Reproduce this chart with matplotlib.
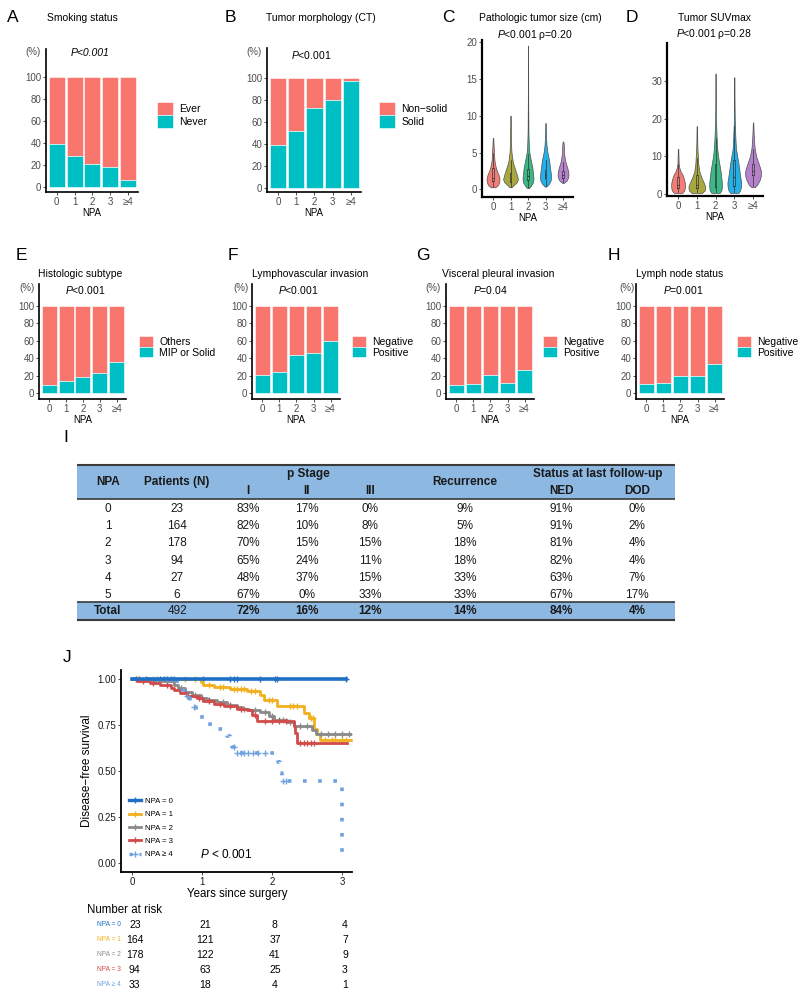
import numpy as np
import matplotlib
matplotlib.use("Agg")
import matplotlib.pyplot as plt
from matplotlib import transforms
from matplotlib.patches import Rectangle
from matplotlib.lines import Line2D

plt.rcParams['font.family'] = ['Liberation Sans', 'DejaVu Sans']
plt.rcParams['mathtext.fontset'] = 'custom'
plt.rcParams['mathtext.it'] = 'Liberation Sans:italic'
plt.rcParams['mathtext.rm'] = 'Liberation Sans'

W, H = 800, 998

# ── data ───────────────────────────────────────────────────────────
npa_ticks = ["0", "1", "2", "3", "≥4"]
RED, TEAL = "#F8766D", "#00BFC4"

never_smoker = [39, 28, 21, 18, 6]
solid_ct = [39, 52, 73, 80, 97]
mip_solid = [9, 14, 18, 23, 36]
lvi_pos = [21, 24, 44, 46, 60]
vpi_pos = [9, 10, 21, 12, 27]
ln_pos = [10, 11, 20, 20, 33]

# violin outlines: (value, half width) per NPA group
size_y = [[0.3, 0.6, 1.0, 1.5, 2.0, 2.5, 3.0, 3.5, 4.0, 5.0, 6.0, 7.0],
          [0.3, 0.7, 1.0, 1.4, 2.0, 2.5, 3.0, 3.5, 4.0, 5.0, 6.0, 8.0, 10.0],
          [0.2, 0.5, 1.0, 1.5, 2.0, 2.5, 3.0, 3.5, 4.0, 5.0, 6.0, 8.0, 12.0, 19.5],
          [0.4, 0.8, 1.2, 1.7, 2.2, 2.7, 3.2, 4.0, 4.5, 5.0, 6.0, 7.0, 9.0],
          [0.9, 1.2, 1.6, 2.0, 2.5, 3.0, 3.5, 4.0, 5.0, 6.0, 6.5]]
size_w = [[0.12, 0.25, 0.32, 0.33, 0.28, 0.2, 0.14, 0.1, 0.07, 0.05, 0.03, 0.01],
          [0.05, 0.2, 0.32, 0.38, 0.32, 0.26, 0.2, 0.14, 0.1, 0.05, 0.03, 0.02, 0.01],
          [0.05, 0.15, 0.26, 0.28, 0.26, 0.24, 0.22, 0.18, 0.14, 0.07, 0.04, 0.02, 0.01, 0.005],
          [0.05, 0.18, 0.26, 0.28, 0.27, 0.24, 0.22, 0.18, 0.14, 0.1, 0.05, 0.03, 0.01],
          [0.05, 0.18, 0.26, 0.28, 0.26, 0.21, 0.15, 0.1, 0.05, 0.04, 0.02]]
size_box = [(1.2, 1.6, 2.9, 0.3, 5.0), (1.0, 1.5, 2.2, 0.3, 4.0), (1.3, 1.8, 2.8, 0.2, 4.8),
            (1.5, 2.0, 2.6, 0.5, 4.0), (1.6, 2.0, 2.5, 1.0, 3.7)]

suv_y = [[0.3, 1, 2, 3, 4, 5, 6, 7, 8, 10, 12],
         [0.3, 1, 2, 3, 4, 5, 6, 8, 10, 12, 14, 18],
         [0.3, 1, 2, 3, 4, 6, 8, 10, 12, 15, 20, 25, 32],
         [0.3, 1, 2, 3, 4, 6, 8, 10, 12, 15, 20, 25, 31],
         [1.8, 2.5, 3.5, 4.5, 5.5, 6.5, 7.5, 8.5, 10, 12, 14, 16, 19]]
suv_w = [[0.2, 0.3, 0.33, 0.32, 0.28, 0.22, 0.12, 0.06, 0.03, 0.02, 0.01],
         [0.25, 0.38, 0.4, 0.33, 0.25, 0.18, 0.12, 0.07, 0.05, 0.03, 0.02, 0.01],
         [0.2, 0.28, 0.3, 0.3, 0.28, 0.24, 0.18, 0.12, 0.08, 0.05, 0.02, 0.01, 0.005],
         [0.2, 0.28, 0.32, 0.33, 0.3, 0.25, 0.2, 0.14, 0.08, 0.05, 0.02, 0.01, 0.005],
         [0.08, 0.2, 0.3, 0.36, 0.38, 0.36, 0.3, 0.24, 0.15, 0.08, 0.05, 0.03, 0.01]]
suv_box = [(1.5, 2.5, 4.5, 0.5, 8.0), (1.5, 2.5, 5.0, 0.5, 9.5), (1.8, 3.5, 8.0, 0.5, 15.0),
           (2.0, 4.5, 9.0, 0.5, 18.0), (5.0, 6.0, 8.0, 2.0, 12.0)]
VCOL = ["#F2766F", "#A5A335", "#2FB680", "#18ACE6", "#B07AC8"]

# table I
tab_npa = ["0", "1", "2", "3", "4", "5"]
tab_n = [23, 164, 178, 94, 27, 6]
stage_1 = [83, 82, 70, 65, 48, 67]
stage_2 = [17, 10, 15, 24, 37, 0]
stage_3 = [0, 8, 15, 11, 15, 33]
recur = [9, 5, 18, 18, 33, 33]
ned = [91, 91, 81, 82, 63, 67]
dod = [0, 2, 4, 4, 7, 17]
total_row = [492, 72, 16, 12, 14, 84, 4]

# Kaplan-Meier steps (time, survival) and censor times
km_names = ["NPA = 0", "NPA = 1", "NPA = 2", "NPA = 3", "NPA ≥ 4"]
km_cols = ["#1F6FC5", "#F2B01E", "#8A8A8A", "#D24B4B", "#6FA2DE"]
km_t = [[0, 3.05],
        [0, 0.98, 1.02, 1.17, 1.40, 1.64, 1.83, 1.88, 2.07, 2.45, 2.52, 2.60, 2.64, 2.69, 3.15],
        [0, 0.3, 0.6, 0.65, 0.75, 0.86, 0.98, 1.07, 1.21, 1.36, 1.50, 1.57, 1.67, 1.83, 1.95,
         2.02, 2.21, 2.31, 2.57, 2.62, 3.22],
        [0, 0.07, 0.25, 0.4, 0.55, 0.6, 0.69, 0.79, 0.93, 1.02, 1.17, 1.31, 1.5, 1.64, 1.71,
         1.79, 2.31, 2.33, 2.36, 3.07],
        [0, 0.64, 0.72, 0.78, 0.83, 0.88, 0.92, 1.0, 1.12, 1.36, 1.40, 1.43, 1.46, 2.09, 2.11,
         2.14, 3.0, 3.0]]
km_s = [[1.0, 1.0],
        [1.0, 0.985, 0.97, 0.96, 0.947, 0.937, 0.915, 0.888, 0.855, 0.815, 0.79, 0.73, 0.70, 0.67, 0.67],
        [1.0, 0.99, 0.97, 0.95, 0.93, 0.915, 0.90, 0.885, 0.875, 0.86, 0.85, 0.84, 0.83, 0.82, 0.80,
         0.78, 0.77, 0.745, 0.725, 0.70, 0.70],
        [1.0, 0.99, 0.98, 0.97, 0.95, 0.94, 0.925, 0.91, 0.90, 0.88, 0.865, 0.855, 0.84, 0.83, 0.805,
         0.775, 0.745, 0.705, 0.655, 0.655],
        [1.0, 0.97, 0.94, 0.91, 0.88, 0.85, 0.81, 0.77, 0.73, 0.69, 0.66, 0.63, 0.60, 0.55, 0.49,
         0.445, 0.445, 0.03]]
km_cens = [[0.4, 0.45, 0.5, 0.55, 0.6, 1.01, 1.40, 1.45, 1.5, 1.83, 2.04, 2.07, 3.05],
           [0.05, 0.1, 0.2, 0.3, 0.45, 0.6, 0.75, 0.9, 1.1, 1.25, 1.3, 1.45, 1.5, 1.55, 1.6, 1.7,
            1.75, 1.95, 2.0, 2.25, 2.3, 2.35, 2.55, 2.58, 2.75, 2.85, 2.9, 3.0, 3.05, 3.15],
           [0.1, 0.2, 0.35, 0.5, 0.7, 0.9, 1.0, 1.1, 1.3, 1.4, 1.6, 1.75, 1.9, 2.0, 2.1, 2.15, 2.25,
            2.4, 2.5, 2.7, 2.8, 2.9, 3.0, 3.1, 3.2],
           [0.05, 0.15, 0.3, 0.5, 0.8, 0.95, 1.1, 1.25, 1.4, 1.55, 1.75, 1.9, 2.0, 2.1, 2.2, 2.4,
            2.45, 2.5, 2.55, 2.6],
           [0.35, 0.5, 0.55, 0.78, 0.88, 1.45, 1.5, 1.55, 1.6, 1.65, 1.72, 1.8, 1.9, 2.15, 2.2]]
risk_times = [0, 1, 2, 3]
risk = [[23, 21, 8, 4],
        [164, 121, 37, 7],
        [178, 122, 41, 9],
        [94, 63, 25, 3],
        [33, 18, 4, 1]]

# ── figure ─────────────────────────────────────────────────────────
fig = plt.figure(figsize=(W / 100, H / 100), dpi=100)

ov = fig.add_axes([0, 0, 1, 1])
ov.set_xlim(0, W)
ov.set_ylim(H, 0)
ov.axis('off')
ov.set_zorder(10)


def txt(x, y, s, **kw):
    kw.setdefault('va', 'center')
    kw.setdefault('ha', 'center')
    ov.text(x, y, s, **kw)


def px_axes(l, t, r, b):
    a = fig.add_axes([l / W, 1 - b / H, (r - l) / W, (b - t) / H])
    a.set_facecolor('none')
    return a


def style_axis(ax, lw=1.2, tick_col='#4D4D4D', fs=7):
    for s in ('top', 'right'):
        ax.spines[s].set_visible(False)
    for s in ('left', 'bottom'):
        ax.spines[s].set_linewidth(lw)
    ax.tick_params(length=2.2, width=0.6, pad=1.2, labelsize=fs, labelcolor=tick_col, color='#333333')


def bar_panel(box, pos, labels, ylim, leg_x, leg_y, hl, hh):
    ax = px_axes(*box)
    x = np.arange(len(pos))
    pos = np.array(pos)
    ax.bar(x, 100 - pos, bottom=pos, width=0.89, color=RED, edgecolor='white', lw=0.4, label=labels[0])
    ax.bar(x, pos, width=0.89, color=TEAL, edgecolor='white', lw=0.4, label=labels[1])
    ax.set_xlim(-0.6, 4.55)
    ax.set_ylim(*ylim)
    ax.set_yticks([0, 20, 40, 60, 80, 100])
    ax.set_xticks(x, npa_ticks)
    style_axis(ax)
    ax.set_xlabel("NPA", fontsize=7, labelpad=1)
    ax.legend(loc='center left', bbox_to_anchor=(leg_x / W, 1 - leg_y / H), bbox_transform=fig.transFigure,
              frameon=False, borderpad=0, borderaxespad=0, handlelength=hl, handleheight=hh,
              labelspacing=0.0, handletextpad=0.6, fontsize=7.5)
    return ax


def violin_panel(box, ys, ws, boxes, xlim, ylim, yticks, wscale=1.12):
    ax = px_axes(*box)
    for i in range(5):
        y = np.array(ys[i])
        w = np.array(ws[i]) * wscale
        ax.fill_betweenx(y, i - w, i + w, facecolor=VCOL[i], edgecolor='#4A4A4A', lw=0.5, alpha=0.95)
    stats = [dict(q1=b[0], med=b[1], q3=b[2], whislo=b[3], whishi=b[4], fliers=[]) for b in boxes]
    ax.bxp(stats, positions=range(5), widths=0.09, showfliers=False, showcaps=False,
           boxprops=dict(lw=0.5, color='#333333'), medianprops=dict(lw=0.6, color='#333333'),
           whiskerprops=dict(lw=0.5, color='#333333'))
    ax.set_xlim(*xlim)
    ax.set_ylim(*ylim)
    ax.set_yticks(yticks)
    ax.set_xticks(range(5), npa_ticks)
    style_axis(ax, lw=1.6)
    ax.set_xlabel("NPA", fontsize=7, labelpad=1)
    return ax


# ── row 1 ──
bar_panel((46, 49, 138, 192), never_smoker, ["Ever", "Never"], (-4.5, 125.5), 157, 115, 1.55, 1.6)
bar_panel((267, 48, 361, 192), solid_ct, ["Non−solid", "Solid"], (-3.6, 127), 379, 115, 1.55, 1.6)
violin_panel((482, 40, 573, 197), size_y, size_w, size_box, (-0.63, 4.57), (-1.02, 20.27), [0, 5, 10, 15, 20])
violin_panel((667, 43, 763, 196), suv_y, suv_w, suv_box, (-0.59, 4.53), (-0.53, 40.1), [0, 10, 20, 30])

# ── row 2 ──
bar_panel((39, 284, 126, 399), mip_solid, ["Others", "MIP or Solid"], (-6.9, 125.3), 139, 347, 1.35, 1.15)
bar_panel((252, 284, 340, 399), lvi_pos, ["Negative", "Positive"], (-6.9, 125.3), 352, 347, 1.35, 1.15)
bar_panel((446, 284, 534, 399), vpi_pos, ["Negative", "Positive"], (-6.9, 125.3), 543, 347, 1.35, 1.15)
bar_panel((636, 284, 724, 399), ln_pos, ["Negative", "Positive"], (-6.9, 125.3), 737, 347, 1.35, 1.15)

# panel letters, titles, p-values
for L, x, y in [("A", 13, 17), ("B", 230, 17), ("C", 448, 17), ("D", 632, 17),
                ("E", 21, 255), ("F", 233, 255), ("G", 423, 255), ("H", 614, 255),
                ("I", 66, 437), ("J", 67, 657)]:
    txt(x, y, L, fontsize=12.5)
for s, x, y in [("Smoking status", 47, 18), ("Tumor morphology (CT)", 266, 18),
                ("Pathologic tumor size (cm)", 479, 18), ("Tumor SUVmax", 678, 18),
                ("Histologic subtype", 38, 274), ("Lymphovascular invasion", 252, 274),
                ("Visceral pleural invasion", 442, 274), ("Lymph node status", 636, 274)]:
    txt(x, y, s, ha='left', fontsize=7.5)
for x, y in [(33, 52), (254, 52), (27, 288), (241, 288), (433, 288), (627, 288)]:
    txt(x, y, "(%)", fontsize=7, color='#4D4D4D')
txt(90, 53, "P<0.001", fontsize=7.5, style='italic')
txt(311, 55, r"$\mathit{P}$<0.001", fontsize=7.5)
txt(535, 35, r"$\mathit{P}$<0.001 ρ=0.20", fontsize=7.5)
txt(714, 34, r"$\mathit{P}$<0.001 ρ=0.28", fontsize=7.5)
txt(85, 290, r"$\mathit{P}$<0.001", fontsize=7.5)
txt(298, 290, r"$\mathit{P}$<0.001", fontsize=7.5)
txt(490, 290, r"$\mathit{P}$=0.04", fontsize=7.5)
txt(683, 290, r"$\mathit{P}$=0.001", fontsize=7.5)

# ── table I ──
TB = "#8DB8E2"
tl, tr = 77, 675
ov.add_patch(Rectangle((tl, 465), tr - tl, 34, facecolor=TB, edgecolor='none'))
ov.add_patch(Rectangle((tl, 602), tr - tl, 18, facecolor=TB, edgecolor='none'))
ov.hlines([465, 620], tl, tr, color='#3A3A3A', lw=1.5)
ov.hlines([499, 602], tl, tr, color='#3A3A3A', lw=1.2)
tfont = ['Liberation Sans Narrow', 'Liberation Sans']
cols_x = [108, 177, 248, 307, 370, 465, 561, 637]
hk = dict(fontsize=8.5, fontweight='bold', color='#1A1A1A', family=tfont)
txt(108, 482, "NPA", **hk)
txt(177, 482, "Patients (N)", **hk)
txt(308, 474, "p Stage", **hk)
txt(248, 491, "I", **hk)
txt(307, 491, "II", **hk)
txt(370, 491, "III", **hk)
txt(465, 482, "Recurrence", **hk)
txt(598, 474, "Status at last follow-up", **hk)
txt(561, 491, "NED", **hk)
txt(637, 491, "DOD", **hk)
rk = dict(fontsize=8.5, color='#1A1A1A', family=tfont)
for i in range(len(tab_npa)):
    y = 508 + i * 17.2
    vals = [tab_npa[i], str(tab_n[i]), f"{stage_1[i]}%", f"{stage_2[i]}%", f"{stage_3[i]}%",
            f"{recur[i]}%", f"{ned[i]}%", f"{dod[i]}%"]
    for x, v in zip(cols_x, vals):
        txt(x, y + 1, v, **rk)
txt(cols_x[0], 611, "Total", **hk)
txt(cols_x[1], 611, str(total_row[0]), **rk)
for x, v in zip(cols_x[2:], total_row[1:]):
    txt(x, 611, f"{v}%", **hk)

# ── J: Kaplan-Meier ──
km = px_axes(121, 670, 352, 872)
for i in range(5):
    ls = (0, (1.0, 3.2)) if i == 4 else '-'
    lw = 2.6 if i in (0, 4) else 2.0
    km.step(km_t[i], km_s[i], where='post', color=km_cols[i], lw=lw, ls=ls, zorder=3 + (i == 0))
    ct = np.array(km_cens[i])
    idx = np.searchsorted(km_t[i], ct, side='right') - 1
    cs = np.array(km_s[i])[idx]
    km.plot(ct, cs, ls='none', marker='+', ms=5, mew=1.0, color=km_cols[i], zorder=3)
km.set_xlim(-0.157, 3.14)
km.set_ylim(-0.048, 1.05)
km.set_xticks([0, 1, 2, 3])
km.set_yticks([0, 0.25, 0.5, 0.75, 1.0], ["0.00", "0.25", "0.50", "0.75", "1.00"])
style_axis(km, lw=1.3, tick_col='#1A1A1A', fs=7)
km.tick_params(length=2.5, pad=1)
handles = [Line2D([], [], color=c, lw=2.0 if i not in (0, 4) else 2.4,
                  ls=(0, (1.0, 2.0)) if i == 4 else '-', marker='+', ms=5, mew=1.0)
           for i, c in enumerate(km_cols)]
km.legend(handles, km_names, loc='center left', bbox_to_anchor=(129 / W, 1 - 828 / H),
          bbox_transform=fig.transFigure, frameon=False, borderpad=0, borderaxespad=0,
          handlelength=1.6, handletextpad=0.4, labelspacing=0.75, fontsize=5.6)
txt(87, 771, "Disease−free survival", rotation=90, fontsize=8.5)
txt(237, 894, "Years since surgery", fontsize=8.3)
txt(226, 854, r"$\mathit{P}$ < 0.001", fontsize=8.5)

# number at risk
txt(87, 910, "Number at risk", ha='left', fontsize=8.3)
bt = transforms.blended_transform_factory(km.transData, ov.transData)
for i in range(5):
    y = 925 + i * 14.9
    txt(121, y, km_names[i], ha='right', fontsize=4.8, color=km_cols[i])
    for t, n in zip(risk_times, risk[i]):
        ov.text(t + 0.04, y, str(n), transform=bt, ha='center', va='center', fontsize=7.5)

fig.savefig("out.png", dpi=100)
